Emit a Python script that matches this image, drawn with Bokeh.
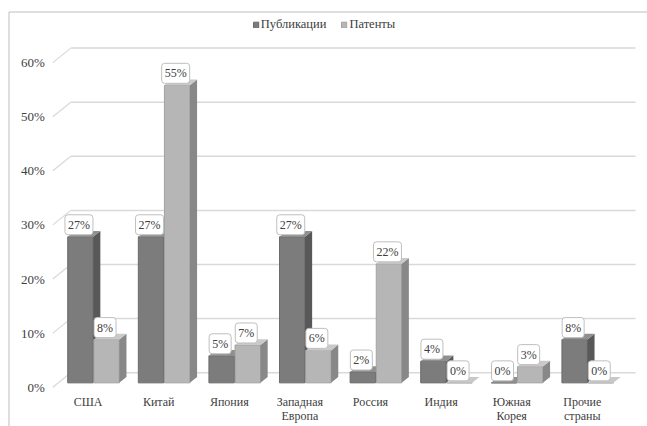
import numpy as np
from bokeh.plotting import figure
from bokeh.models import Range1d, Legend, LegendItem
from bokeh.core.properties import value
from bokeh.embed import file_html
from bokeh.resources import INLINE

# --- data -----------------------------------------------------------------
categories = ["США", "Китай", "Япония", "Западная\nЕвропа", "Россия",
              "Индия", "Южная\nКорея", "Прочие\nстраны"]
publications = [27, 27, 5, 27, 2, 4, 0, 8]
patents = [8, 55, 7, 6, 22, 0, 3, 0]
series_names = ["Публикации", "Патенты"]
y_ticks = [0, 10, 20, 30, 40, 50, 60]
y_tick_labels = ["0%", "10%", "20%", "30%", "40%", "50%", "60%"]

# --- geometry of the pseudo-3D box ----------------------------------------
W, H = 647, 426
BAND_PX = 70.6          # canvas pixels per category band
PCT_PX = 5.41           # canvas pixels per percentage point
X0_PX, Y0_PX = 52.3, 386.7   # front-left corner of the floor on the canvas

DEPTH_X = 18.0 / BAND_PX     # receding depth vector, in data units
DEPTH_Y = 14.5 / PCT_PX
F0, F1 = 0.30, 0.70          # bars occupy this slice of the depth
BAR_W = 0.36
OFFSETS = [-0.185, 0.185]

FONT = "Times New Roman"
TEXT = "#404040"
GRID = "#d9d9d9"
BORDER = "#bfbfbf"
PALETTE = [
    dict(front="#7c7c7c", side="#585858", top="#8f8f8f", edge="#6a6a6a"),
    dict(front="#b6b6b6", side="#888888", top="#c9c9c9", edge="#a2a2a2"),
]

p = figure(width=W, height=H, output_backend="svg", toolbar_location=None,
           min_border=0,
           x_range=Range1d(-X0_PX / BAND_PX, (W - X0_PX) / BAND_PX),
           y_range=Range1d(-(H - Y0_PX) / PCT_PX, Y0_PX / PCT_PX))
p.axis.visible = False
p.grid.visible = False
p.outline_line_color = None

n = len(categories)
idx = np.arange(n)
ticks = np.array(y_ticks, dtype=float)

# chart-area border (left and top edges)
bx = (8.5 - X0_PX) / BAND_PX
by = (Y0_PX - 11.5) / PCT_PX
p.segment(x0=[bx, bx], y0=[p.y_range.start, by], x1=[bx, p.x_range.end], y1=[by, by],
          line_color=BORDER, line_width=1)

# back-wall gridlines and their floor diagonals
p.segment(x0=DEPTH_X, y0=ticks + DEPTH_Y, x1=n + DEPTH_X, y1=ticks + DEPTH_Y,
          line_color=GRID, line_width=1.5)
p.segment(x0=0, y0=ticks, x1=DEPTH_X, y1=ticks + DEPTH_Y,
          line_color=GRID, line_width=1.2)

# y tick labels on the front plane
p.text(x=-8.0 / BAND_PX, y=ticks, text=y_tick_labels, text_align="right",
       text_baseline="middle", text_font=value(FONT), text_font_size="13px",
       text_color=TEXT)

# category labels
p.text(x=idx + 0.5, y=-7.5 / PCT_PX, text=categories, text_align="center",
       text_baseline="top", text_font=value(FONT), text_font_size="12px",
       text_color=TEXT, text_line_height=1.05)

fronts = []
label_x, label_y, label_t = [], [], []
for vals, off, col in zip([publications, patents], OFFSETS, PALETTE):
    v = np.array(vals, dtype=float)
    cx = idx + 0.5 + off + F0 * DEPTH_X
    bottom = F0 * DEPTH_Y
    top = v + bottom
    left, right = cx - BAR_W / 2, cx + BAR_W / 2
    sdx, sdy = (F1 - F0) * DEPTH_X, (F1 - F0) * DEPTH_Y

    r = p.vbar(x=cx, width=BAR_W, bottom=bottom, top=top,
               fill_color=col["front"], line_color=col["edge"], line_width=1)
    fronts.append(r)
    p.patches(xs=[[ri, ri + sdx, ri + sdx, ri] for ri in right],
              ys=[[bottom, bottom + sdy, ti + sdy, ti] for ti in top],
              fill_color=col["side"], line_color=None)
    p.patches(xs=[[li, ri, ri + sdx, li + sdx] for li, ri in zip(left, right)],
              ys=[[ti, ti, ti + sdy, ti + sdy] for ti in top],
              fill_color=col["top"], line_color=None)

    label_x += list(cx - 1.5 / BAND_PX)
    label_y += list(top + 12.0 / PCT_PX)
    label_t += [f"{int(x)}%" for x in vals]

# value labels in small rounded boxes
p.text(x=label_x, y=label_y, text=label_t, text_align="center",
       text_baseline="middle", text_font=value(FONT), text_font_size="12px",
       text_color=TEXT, background_fill_color="white",
       border_line_color=BORDER, border_line_width=1, border_radius=3,
       padding=3)

legend = Legend(items=[LegendItem(label=name, renderers=[r])
                       for name, r in zip(series_names, fronts)],
                orientation="horizontal", location="top_center",
                glyph_width=7, glyph_height=7, label_standoff=2, spacing=14,
                padding=0, margin=17, label_height=14,
                border_line_color=None, background_fill_alpha=0,
                label_text_font=FONT, label_text_font_size="12.5px",
                label_text_color=TEXT)
p.add_layout(legend)

open("out.html", "w").write(file_html(p, INLINE))
